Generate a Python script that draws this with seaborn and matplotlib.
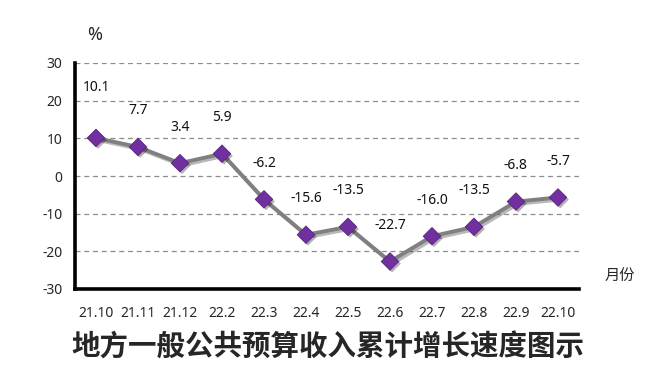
import matplotlib
matplotlib.use("Agg")
import matplotlib.pyplot as plt
import matplotlib.patheffects as pe
import seaborn as sns
import pandas as pd

months = ["21.10", "21.11", "21.12", "22.2", "22.3", "22.4", "22.5", "22.6", "22.7", "22.8", "22.9", "22.10"]
growth = [10.1, 7.7, 3.4, 5.9, -6.2, -15.6, -13.5, -22.7, -16.0, -13.5, -6.8, -5.7]
yticks = [30, 20, 10, 0, -10, -20, -30]
title = "地方一般公共预算收入累计增长速度图示"

sns.set_theme(style="white")
plt.rcParams['font.family'] = ['Noto Sans', 'Noto Sans CJK SC', 'DejaVu Sans']
plt.rcParams['axes.unicode_minus'] = False

df = pd.DataFrame({"month": months, "growth": growth})
df["pos"] = range(len(months))

fig = plt.figure(figsize=(6.48, 3.77), dpi=100)
ax = fig.add_axes([75/648, 1-289/377, 504/648, 226/377])

line_shadow = [pe.SimpleLineShadow(offset=(1.5, -1.5), alpha=0.3), pe.Normal()]
sns.lineplot(data=df, x="pos", y="growth", ax=ax, color="#808080", linewidth=2.8,
             path_effects=line_shadow, zorder=3)
sns.scatterplot(data=df, x="pos", y="growth", ax=ax, marker="D", s=80,
                color="#7030A0", edgecolor="#5a2580", linewidth=0.6, zorder=4,
                path_effects=[pe.SimplePatchShadow(offset=(1.5, -1.5), shadow_rgbFace="#000000",
                                                   alpha=0.3), pe.Normal()])

for i, (x, v) in enumerate(zip(df["pos"], growth)):
    off = 36 if i == 0 else 26
    ax.annotate(f"{v:.1f}", (x, v), xytext=(0, off), textcoords="offset points",
                ha="center", va="center", fontsize=10, color="#111111")

ax.set_xlim(-0.5, len(months) - 0.5)
ax.set_ylim(-30, 30)
ax.set_yticks(yticks)
ax.set_xticks(df["pos"])
ax.set_xticklabels(months)
for t in yticks[:-1]:
    ax.axhline(t, color="#8c8c8c", linestyle=(0, (4, 3)), linewidth=0.9, zorder=0)

for s in ["top", "right"]:
    ax.spines[s].set_visible(False)
for s in ["left", "bottom"]:
    ax.spines[s].set_color("black")
    ax.spines[s].set_linewidth(2.6)
ax.tick_params(axis="y", direction="out", length=6, width=2.4, color="black",
               labelsize=10, pad=3)
ax.tick_params(axis="x", length=0, labelsize=10, pad=12)
ax.set_xlabel("")
ax.set_ylabel("")

fig.text(95/648, 1-35/377, "%", ha="center", va="center", fontsize=13, fontweight="bold")
fig.text(620/648, 1-276/377, "月份", ha="center", va="center", fontsize=11,
         family=['Noto Sans CJK SC', 'DejaVu Sans'])
fig.text(328/648, 1-348/377, title, ha="center", va="center", fontsize=20.5,
         fontweight="bold", family=['Noto Sans CJK SC', 'DejaVu Sans'])

fig.savefig("out.png", dpi=100)
